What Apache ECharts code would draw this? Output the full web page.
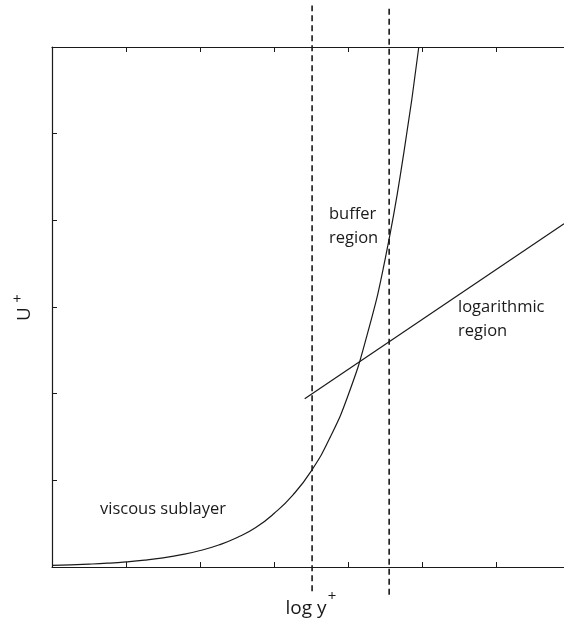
<!DOCTYPE html>
<html>
<head>
<meta charset="utf-8">
<script src="https://cdn.jsdelivr.net/npm/echarts@6/dist/echarts.min.js"></script>
<style>
  html, body { margin: 0; padding: 0; background: #fff; }
  #chart { width: 564px; height: 624px; }
</style>
</head>
<body>
<div id="chart"></div>
<script>
// Law of the wall: mean velocity U+ against log y+
const logYPlus = [0, 0.25, 0.5, 0.75, 1, 1.25, 1.5, 1.75, 2, 2.25, 2.5, 2.75, 3, 3.25, 3.5, 3.75, 4, 4.25, 4.5, 4.75, 4.95];
const uPlusLinear = [0.018, 0.025, 0.033, 0.044, 0.059, 0.079, 0.106, 0.142, 0.19, 0.254, 0.34, 0.455, 0.62, 0.83, 1.11, 1.49, 1.99, 2.67, 3.57, 4.79, 6.0];

// Straight log-law line
const logLawX = [3.41, 6.91];
const logLawU = [1.94, 3.96];

// Dashed boundaries between the regions
const dividerX = [3.51, 4.55];
const dividerTop = [6.48, 6.44];
const dividerBottom = [-0.28, -0.32];

// Region labels
const regionLabels = [
  { lines: ['buffer', 'region'], x: 329, y: 214 },
  { lines: ['logarithmic', 'region'], x: 458, y: 307 },
  { lines: ['viscous sublayer'], x: 100, y: 509 }
];

const ink = '#1a1a1a';
const font = '"Open Sans", "DejaVu Sans", sans-serif';

const series = [
  {
    type: 'line',
    data: logYPlus.map((x, i) => [x, uPlusLinear[i]]),
    smooth: 0.5,
    symbol: 'none',
    lineStyle: { color: ink, width: 1.2 }
  },
  {
    type: 'line',
    data: logLawX.map((x, i) => [x, logLawU[i]]),
    symbol: 'none',
    lineStyle: { color: ink, width: 1.2 }
  }
];
dividerX.forEach((x, i) => {
  series.push({
    type: 'line',
    data: [[x, dividerBottom[i]], [x, dividerTop[i]]],
    symbol: 'none',
    clip: false,
    lineStyle: { color: ink, width: 1.6, type: [6, 4] }
  });
});

const graphics = [];
regionLabels.forEach(lab => {
  lab.lines.forEach((t, k) => {
    graphics.push({
      type: 'text', x: lab.x, y: lab.y + k * 24,
      style: { text: t, fill: ink, font: '16.5px ' + font, align: 'left', verticalAlign: 'middle' }
    });
  });
});
// Axis titles
graphics.push(
  { type: 'text', x: 306, y: 609, style: { text: 'log y', fill: ink, font: '19px ' + font, align: 'center', verticalAlign: 'middle' } },
  { type: 'text', x: 332, y: 597, style: { text: '+', fill: ink, font: '15px ' + font, align: 'center', verticalAlign: 'middle' } },
  { type: 'text', x: 25, y: 314, rotation: Math.PI / 2, style: { text: 'U', fill: ink, font: '19px ' + font, align: 'center', verticalAlign: 'middle' } },
  { type: 'text', x: 17, y: 300, style: { text: '+', fill: ink, font: '15px ' + font, align: 'center', verticalAlign: 'middle' } }
);

const xCommon = {
  type: 'value', min: 0, max: 7, interval: 1,
  axisLine: { show: true, onZero: false, lineStyle: { color: ink, width: 1.2 } },
  axisTick: { show: true, inside: true, length: 5, lineStyle: { color: ink, width: 1 } },
  axisLabel: { show: false },
  splitLine: { show: false }
};

const chart = echarts.init(document.getElementById('chart'), null, { renderer: 'canvas' });
chart.setOption({
  animation: false,
  backgroundColor: '#fff',
  grid: { left: 52, top: 47, width: 518.7, height: 520, outerBoundsMode: 'none', containLabel: false },
  xAxis: [
    Object.assign({ position: 'bottom' }, xCommon),
    Object.assign({ position: 'top' }, xCommon)
  ],
  yAxis: {
    type: 'value', min: 0, max: 6, interval: 1,
    axisLine: { show: true, onZero: false, lineStyle: { color: ink, width: 1.2 } },
    axisTick: { show: true, inside: true, length: 5, lineStyle: { color: ink, width: 1 } },
    axisLabel: { show: false },
    splitLine: { show: false }
  },
  series: series,
  graphic: graphics
});
</script>
</body>
</html>
